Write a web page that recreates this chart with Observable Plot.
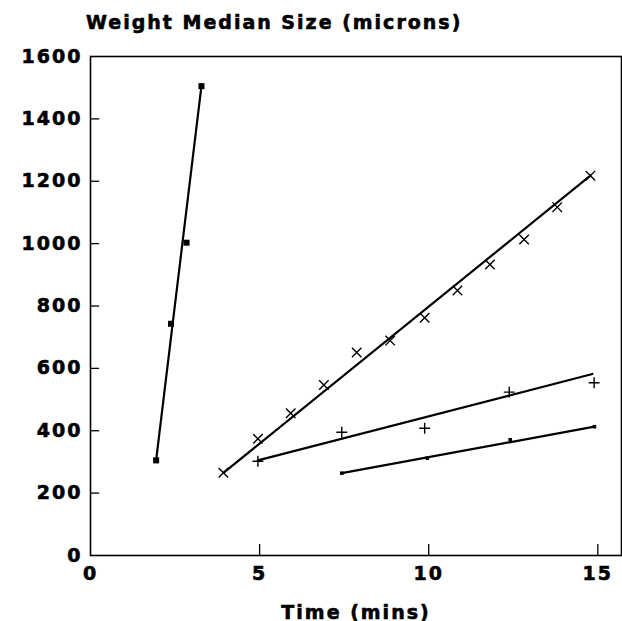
<!DOCTYPE html>
<html><head><meta charset="utf-8">
<script src="https://cdn.jsdelivr.net/npm/d3@7"></script>
<script src="https://cdn.jsdelivr.net/npm/@observablehq/plot@0.6"></script>
<style>
body{margin:0;background:#fff;}
#title{height:40px;box-sizing:border-box;padding:12px 0 0 86px;font:bold 19px/20px "DejaVu Sans";letter-spacing:2px;color:#000;white-space:nowrap;-webkit-text-stroke:0.6px #000;}
#chart svg{display:block;}
#chart svg text{stroke:#000;stroke-width:0.6px;}
</style></head><body>
<div id="title">Weight Median Size (microns)</div>
<div id="chart"></div>
<script>
// Measured points (time in mins, weight median size in microns)
const squareTime = [1.94, 2.38, 2.84, 3.28];
const squareSize = [305, 743, 1003, 1505];
const timesTime = [3.93, 4.95, 5.92, 6.9, 7.87, 8.86, 9.88, 10.85, 11.81, 12.82, 13.8, 14.78];
const timesSize = [265, 374, 456, 547, 651, 689, 762, 850, 933, 1013, 1117, 1218];
const plusTime = [4.95, 7.43, 9.88, 12.38, 14.89];
const plusSize = [302, 395, 408, 524, 554];
const dotTime = [7.43, 9.96, 12.41, 14.9];
const dotSize = [264, 312, 371, 413];
// Hand-drawn fit lines, read as [start, end]
const squareLineTime = [1.94, 3.28], squareLineSize = [305, 1505];
const timesLineTime = [3.93, 14.78], timesLineSize = [265, 1218];
const plusLineTime = [4.95, 14.84], plusLineSize = [305, 582];
const dotLineTime = [7.43, 14.9], dotLineSize = [264, 413];
// Axes
const xTicks = [0, 5, 10, 15];
const yTicks = [0, 200, 400, 600, 800, 1000, 1200, 1400, 1600];
const xLabel = "Time (mins)";

const zip = (xs, ys) => xs.map((x, i) => ({x, y: ys[i]}));

const font = {fontFamily: "DejaVu Sans", fontWeight: "bold", fontSize: "19px", letterSpacing: "2px", color: "#000", background: "#fff"};

const chart = Plot.plot({
  width: 622,
  height: 581,
  marginLeft: 90,
  marginRight: 1,
  marginTop: 16,
  marginBottom: 66,
  style: font,
  x: {domain: [0, 15.7]},
  y: {domain: [0, 1600]},
  marks: [
    Plot.ruleY(yTicks.slice(1, -1), {y: d => d, x1: 0, x2: 0.27, stroke: "black", strokeWidth: 1.3}),
    Plot.ruleX(xTicks.slice(1), {x: d => d, y1: 0, y2: 35, stroke: "black", strokeWidth: 1.3}),
    Plot.line(zip(squareLineTime, squareLineSize), {x: "x", y: "y", stroke: "black", strokeWidth: 2.2}),
    Plot.line(zip(timesLineTime, timesLineSize), {x: "x", y: "y", stroke: "black", strokeWidth: 2.2}),
    Plot.line(zip(plusLineTime, plusLineSize), {x: "x", y: "y", stroke: "black", strokeWidth: 2.2}),
    Plot.line(zip(dotLineTime, dotLineSize), {x: "x", y: "y", stroke: "black", strokeWidth: 2.2}),
    Plot.dot(zip(squareTime, squareSize), {x: "x", y: "y", symbol: "square", r: 3.4, fill: "black", stroke: "none"}),
    Plot.dot(zip(timesTime, timesSize), {x: "x", y: "y", symbol: "times", r: 4.4, fill: "none", stroke: "black", strokeWidth: 1.4}),
    Plot.dot(zip(plusTime, plusSize), {x: "x", y: "y", symbol: "plus", r: 3.6, fill: "none", stroke: "black", strokeWidth: 1.4}),
    Plot.dot(zip(dotTime, dotSize), {x: "x", y: "y", symbol: "square", r: 2, fill: "black", stroke: "none"}),
    Plot.frame({stroke: "black", strokeWidth: 1.6}),
    Plot.axisY({ticks: yTicks, tickSize: 0, tickPadding: 8, label: null, tickFormat: d => String(d)}),
    Plot.axisX({ticks: xTicks, tickSize: 0, tickPadding: 11, label: xLabel, labelAnchor: "center", labelArrow: "none", tickFormat: d => String(d)})
  ]
});
document.getElementById("chart").appendChild(chart);
</script>
</body></html>
